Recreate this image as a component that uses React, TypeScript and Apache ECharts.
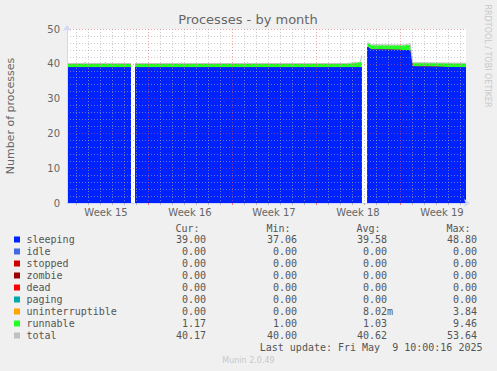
import React, { useEffect, useRef } from "react";
import * as echarts from "echarts";

const TITLE = "Processes - by month";
const Y_NAME = "Number of processes";
const SIDE_TEXT = "RRDTOOL / TOBI OETIKER";
const LAST_UPDATE = "Last update: Fri May  9 10:00:16 2025";
const FOOTER = "Munin 2.0.49";

// x in days from the left edge of the plot
const times = [0, 1.45, 1.5, 1.55, 3.15, 3.2, 3.25, 5.33, 5.5, 5.67, 9.5, 9.55, 9.6, 15.0, 15.05, 15.1, 23.3, 24.3, 24.45, 24.56, 24.8, 25.03, 25.15, 25.35, 28.1, 28.6, 28.8, 33.25];
const sleeping = [39.0, 39.0, 39.0, 39.0, 39.0, 39.0, 39.0, 39.0, null, 39.0, 39.0, 39.0, 39.0, 39.0, 39.0, 39.0, 39.0, 39.0, 39.0, 39.0, null, 44.8, 44.6, 44.1, 44.0, 44.0, 39.2, 39.0];
const idle = [0, 0, 0, 0, 0, 0, 0, 0, null, 0, 0, 0, 0, 0, 0, 0, 0, 0, 0, 0, null, 0, 0, 0, 0, 0, 0, 0];
const stopped = [0, 0, 0, 0, 0, 0, 0, 0, null, 0, 0, 0, 0, 0, 0, 0, 0, 0, 0, 0, null, 0, 0, 0, 0, 0, 0, 0];
const zombie = [0, 0, 0, 0, 0, 0, 0, 0, null, 0, 0, 0, 0, 0, 0, 0, 0, 0, 0, 0, null, 0, 0, 0, 0, 0, 0, 0];
const dead = [0, 0, 0, 0, 0, 0, 0, 0, null, 0, 0, 0, 0, 0, 0, 0, 0, 0, 0, 0, null, 0, 0, 0, 0, 0, 0, 0];
const paging = [0, 0, 0, 0, 0, 0, 0, 0, null, 0, 0, 0, 0, 0, 0, 0, 0, 0, 0, 0, null, 0, 0, 0, 0, 0, 0, 0];
const uninterruptible = [0, 0, 0, 0, 0, 0, 0, 0, null, 0, 0, 0, 0, 0, 0, 0, 0, 0, 0, 0, null, 0, 0, 0, 0, 0, 0, 0];
const runnable = [1.1, 1.1, 1.1, 1.1, 1.1, 1.15, 1.1, 1.1, null, 1.1, 1.1, 1.1, 1.1, 1.1, 1.1, 1.1, 1.1, 1.35, 1.5, 1.6, null, 1.2, 1.2, 1.25, 1.3, 1.4, 1.1, 1.17];
const total = [40.1, 40.1, 40.5, 40.1, 40.1, 40.5, 40.1, 40.1, null, 40.1, 40.1, 40.4, 40.1, 40.1, 40.4, 40.1, 40.1, 40.4, 40.6, 42.3, null, 46.3, 46.0, 45.5, 45.4, 45.8, 40.3, 40.17];

const X_MIN = 0;
const X_MAX = 33.25;
const weekLines = [6.75, 13.75, 20.75, 27.75];
const weekCenters = [3.25, 10.25, 17.25, 24.25, 31.25];
const weekLabels = ["Week 15", "Week 16", "Week 17", "Week 18", "Week 19"];
const dayLines = Array.from({ length: 33 }, (_, i) => 0.75 + i).filter(
  (d) => !weekLines.some((w) => Math.abs(w - d) < 1e-6)
);

const legendNames = ["sleeping", "idle", "stopped", "zombie", "dead", "paging", "uninterruptible", "runnable", "total"];
const legendColors = ["#0022ff", "#4169e1", "#cc0000", "#990000", "#ff0000", "#00aaaa", "#ffa500", "#22ff22", "#c0c0c0"];
const columnHeaders = ["Cur:", "Min:", "Avg:", "Max:"];
const curValues = ["39.00", "0.00", "0.00", "0.00", "0.00", "0.00", "0.00", "1.17", "40.17"];
const minValues = ["37.06", "0.00", "0.00", "0.00", "0.00", "0.00", "0.00", "1.00", "40.00"];
const avgValues = ["39.58", "0.00", "0.00", "0.00", "0.00", "0.00", "8.02m", "1.03", "40.62"];
const maxValues = ["48.80", "0.00", "0.00", "0.00", "0.00", "0.00", "3.84", "9.46", "53.64"];

const stackData = [sleeping, idle, stopped, zombie, dead, paging, uninterruptible, runnable];

const MONO = '"DejaVu Sans Mono", monospace';
const SANS = '"DejaVu Sans", sans-serif';
const FONT_COLOR = "#666666";
const GRID_GREY = "rgba(170,170,180,0.6)";
const GRID_RED = "rgba(230,80,80,0.5)";
const AXIS_COLOR = "#CFD6F8";

function buildOption() {
  const cum: (number | null)[][] = [];
  stackData.forEach((arr, k) => {
    cum.push(
      arr.map((v, i) => {
        if (v == null) return null;
        const prev = k === 0 ? 0 : cum[k - 1][i];
        return prev == null ? null : (prev as number) + v;
      })
    );
  });

  const areaSeries: any[] = [];
  for (let k = stackData.length - 1; k >= 0; k--) {
    areaSeries.push({
      type: "line",
      name: legendNames[k],
      data: times.map((t, i) => [t, cum[k][i]]),
      symbol: "none",
      showSymbol: false,
      connectNulls: false,
      lineStyle: { width: 0 },
      itemStyle: { color: legendColors[k] },
      areaStyle: { color: legendColors[k], opacity: 1 },
      silent: true,
      z: 2,
      xAxisIndex: 0,
      yAxisIndex: 0,
    });
  }
  areaSeries.push({
    type: "line",
    name: "total",
    data: times.map((t, i) => [t, total[i]]),
    symbol: "none",
    showSymbol: false,
    connectNulls: false,
    lineStyle: { width: 1, color: legendColors[8] },
    itemStyle: { color: legendColors[8] },
    silent: true,
    z: 3,
    xAxisIndex: 0,
    yAxisIndex: 0,
  });

  const graphics: any[] = [];
  graphics.push({
    type: "text",
    style: { text: TITLE, x: 248, y: 19.5, fill: FONT_COLOR, font: `13px ${SANS}`, textAlign: "center", textVerticalAlign: "middle" },
  });
  graphics.push({
    type: "text",
    x: 487.5,
    y: 56,
    rotation: -Math.PI / 2,
    style: { text: SIDE_TEXT, x: 0, y: 0, fill: "#c8c8c8", font: `8px ${SANS}`, textAlign: "center", textVerticalAlign: "middle" },
  });

  const colRight = [206, 297, 387, 477];
  const headerRight = [199.5, 290.5, 380.5, 470.5];
  columnHeaders.forEach((h, c) => {
    graphics.push({
      type: "text",
      style: { text: h, x: headerRight[c], y: 228.5, fill: "#555", font: `10px ${MONO}`, textAlign: "right", textVerticalAlign: "middle" },
    });
  });
  const cols = [curValues, minValues, avgValues, maxValues];
  legendNames.forEach((name, r) => {
    const y = 239.5 + r * 12;
    graphics.push({
      type: "rect",
      shape: { x: 14, y: y - 3, width: 6, height: 6 },
      style: { fill: legendColors[r] },
    });
    graphics.push({
      type: "text",
      style: { text: name, x: 26.5, y, fill: "#555", font: `10px ${MONO}`, textAlign: "left", textVerticalAlign: "middle" },
    });
    cols.forEach((col, c) => {
      const v = col[r];
      const hasSuffix = /[a-zA-Z]$/.test(v);
      graphics.push({
        type: "text",
        style: {
          text: v,
          x: colRight[c] + (hasSuffix ? 6 : 0),
          y,
          fill: "#555",
          font: `10px ${MONO}`,
          textAlign: "right",
          textVerticalAlign: "middle",
        },
      });
    });
  });
  graphics.push({
    type: "text",
    style: { text: LAST_UPDATE, x: 482.5, y: 347.5, fill: "#555", font: `10px ${MONO}`, textAlign: "right", textVerticalAlign: "middle" },
  });
  graphics.push({
    type: "text",
    style: { text: FOOTER, x: 248.5, y: 360.5, fill: "#c8c8c8", font: `8px ${SANS}`, textAlign: "center", textVerticalAlign: "middle" },
  });

  return {
    animation: false,
    backgroundColor: "#f0f0f0",
    grid: {
      left: 67,
      top: 29,
      width: 399,
      height: 174,
      show: true,
      backgroundColor: "#ffffff",
      borderWidth: 0,
      containLabel: false,
      outerBoundsMode: "none",
    },
    xAxis: [
      {
        type: "value",
        min: X_MIN,
        max: X_MAX,
        z: 5,
        axisLine: {
          show: true,
          onZero: false,
          lineStyle: { color: AXIS_COLOR, width: 1 },
          symbol: ["none", "arrow"],
          symbolSize: [6, 6],
          symbolOffset: [0, 4],
        },
        axisTick: { show: true, customValues: dayLines, length: 2, lineStyle: { color: "rgba(128,128,128,0.5)" } },
        axisLabel: {
          show: true,
          customValues: weekCenters,
          color: FONT_COLOR,
          fontFamily: SANS,
          fontSize: 10,
          margin: 4,
          formatter: (value: number) => {
            const i = weekCenters.findIndex((c) => Math.abs(c - value) < 1e-6);
            return i >= 0 ? weekLabels[i] : "";
          },
        },
        splitLine: { show: true, lineStyle: { color: GRID_GREY, type: [1, 2], width: 1 } },
      },
      {
        type: "value",
        min: X_MIN,
        max: X_MAX,
        position: "bottom",
        z: 6,
        axisLine: { show: false },
        axisTick: { show: true, customValues: weekLines, length: 2, lineStyle: { color: "rgba(255,0,0,0.5)" } },
        axisLabel: { show: false },
        splitLine: { show: true, lineStyle: { color: GRID_RED, type: [1, 2], width: 1 } },
      },
    ],
    yAxis: {
      type: "value",
      min: 0,
      max: 50,
      interval: 10,
      z: 5,
      name: Y_NAME,
      nameLocation: "middle",
      nameGap: 51,
      nameTextStyle: { color: FONT_COLOR, fontFamily: SANS, fontSize: 11 },
      axisLine: {
        show: true,
        lineStyle: { color: AXIS_COLOR, width: 1 },
        symbol: ["none", "arrow"],
        symbolSize: [6, 6],
        symbolOffset: [0, 4],
      },
      axisTick: { show: false },
      axisLabel: { color: FONT_COLOR, fontFamily: SANS, fontSize: 10, margin: 7 },
      splitLine: { show: true, lineStyle: { color: GRID_RED, type: [1, 2], width: 1 } },
      minorTick: { show: false, splitNumber: 5 },
      minorSplitLine: { show: true, lineStyle: { color: GRID_GREY, type: [1, 2], width: 1 } },
    },
    series: areaSeries,
    graphic: { elements: graphics },
  };
}

export default function App() {
  const ref = useRef<HTMLDivElement>(null);
  useEffect(() => {
    if (!ref.current) return;
    const chart = echarts.init(ref.current, undefined, { renderer: "svg" });
    chart.setOption(buildOption() as any);
    return () => chart.dispose();
  }, []);
  return <div ref={ref} style={{ position: "fixed", left: 0, top: 0, width: 497, height: 371 }} />;
}
